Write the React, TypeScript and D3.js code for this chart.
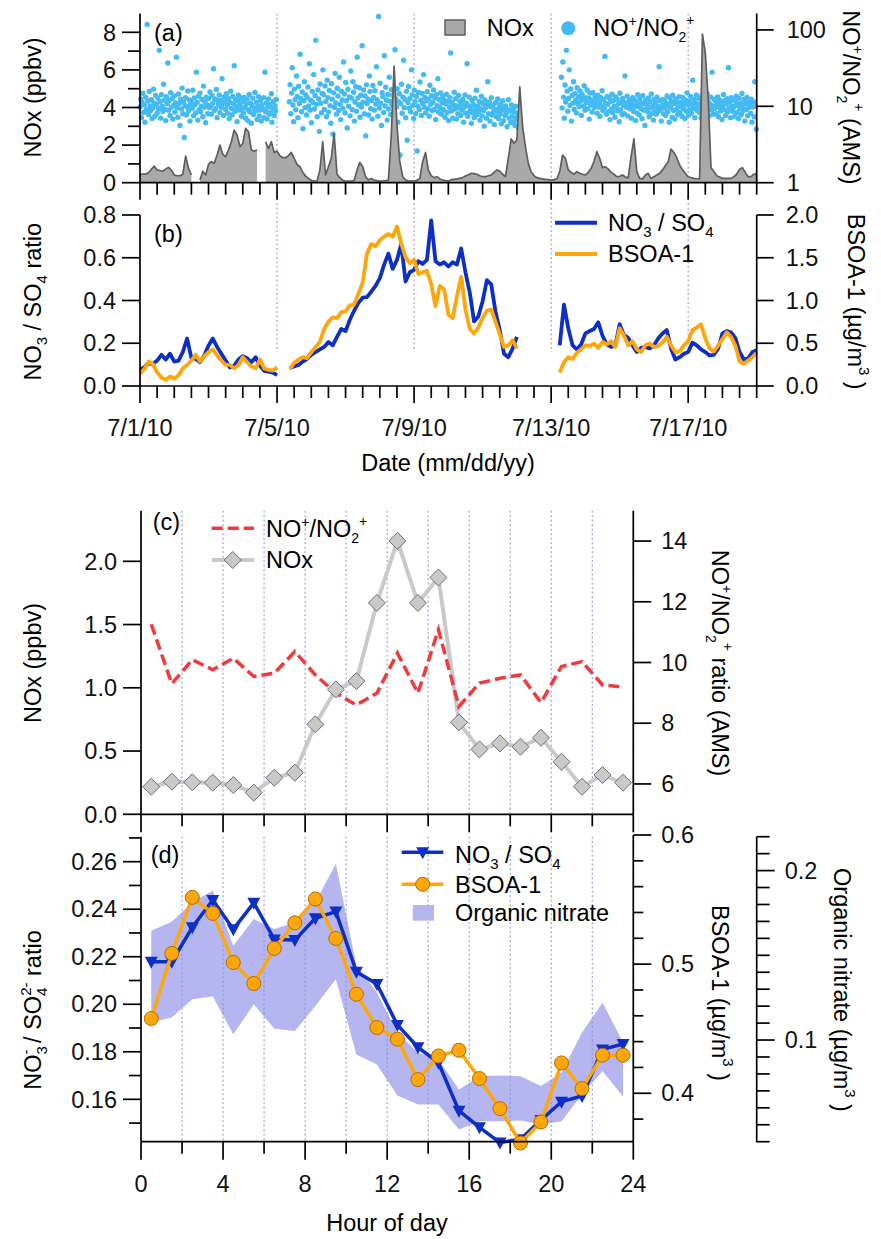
import React from "react";
import * as d3 from "d3";

const FONT = "'Liberation Sans', Arial, Helvetica, sans-serif";
const FS = 23.5;
const T0 = Date.UTC(2010, 6, 1);
const DAY = 86400000;
const toDate = (day: number) => new Date(T0 + day * DAY);

// (a) NOx, ppbv, every 2 h from 7/1 00:00 (null = missing)
const noxStep = 1 / 12;
const noxPpbv = [
  0.46, 0.46, 0.47, 0.53, 0.72, 0.88, 0.67, 0.65, 0.61, 0.72, 0.82, 0.67,
  0.41, 0.37, 0.37, 0.45, 1.42, 0.76, 0.41, null, null, 0.14, 0.61, 0.41,
  0.97, 1.12, 1.03, 1.47, 2.0, 1.51, 1.39, 1.74, 2.18, 2.8, 2.54, 1.92,
  2.09, 2.89, 2.71, 1.74, 1.68, 1.74, null, null, 2.18, 1.83, 2.18, 1.61,
  1.68, 1.44, 1.33, 1.33, 1.44, 1.61, 1.3, 0.97, 0.85, 0.55, 0.35, 0.23,
  0.12, 0.09, 0.09, 0.67, 2.18, 0.41, 0.85, 1.3, 2.62, 0.45, 0.27, 0.12,
  0.09, 0.09, 0.09, 0.12, 0.67, 1.08, 0.85, 0.32, 0.14, 0.23, 0.14, 0.11,
  0.09, 0.09, 0.11, 0.14, 2.5, 6.2, 3.07, 1.12, 0.32, 0.14, 0.11, 0.09,
  0.09, 0.12, 0.23, 1.12, 1.61, 0.67, 0.37, 0.27, 0.32, 0.2, 0.14, 0.11,
  0.09, 0.16, 0.18, 0.2, 0.23, 0.27, 0.36, 0.41, 0.5, 0.48, 0.45, 0.37,
  0.32, 0.32, 0.37, 0.41, 0.55, 0.68, 0.62, 0.45, 0.32, 1.3, 2.33, 2.1,
  2.27, 5.1, 2.99, 1.92, 1.03, 0.59, 0.37, 0.27, 0.23, 0.2, 0.18, 0.16,
  0.14, 0.16, 0.2, 0.59, 1.47, 1.3, 0.68, 0.55, 0.45, 0.59, 0.5, 0.45,
  0.41, 0.55, 0.76, 1.12, 1.65, 1.3, 0.8, 0.85, 0.72, 0.55, 0.45, 0.32,
  0.34, 0.41, 0.3, 0.27, 1.39, 2.33, 0.59, 0.23, 0.2, 0.41, 0.5, 0.23,
  0.32, 0.41, 0.5, 0.68, 0.9, 1.12, 1.79, 1.61, 1.33, 0.94, 0.68, 0.5,
  0.32, 0.27, 0.23, 0.21, 0.2, 7.9, 6.9, 4.5, 0.8, 0.59, 0.37, 0.3,
  0.23, 0.23, 0.23, 0.23, 0.32, 0.45, 0.72, 0.8, 0.55, 0.32, 0.32, 0.45, 0.48,
];

// (a) NO+/NO2+ ratio, every 30 min, three runs of data
const ratioStep = 1 / 48;
const ratioStarts = [0, 4.36, 12.3];
const ratioRunA = [
  9.8, 12.5, 7.1, 11.2, 14.8, 8.3, 10.4, 6.2, 13.1, 9.0, 118, 11.7, 7.8, 15.6, 10.1, 8.8, 12.2, 6.9, 9.5, 16.8, 11.0, 7.4, 13.9, 10.6,
  8.1, 12.8, 9.3, 54, 11.5, 7.0, 14.2, 10.0, 8.6, 19.5, 12.0, 9.1, 6.5, 13.4, 10.8, 37, 8.9, 11.9, 7.6, 15.1, 9.7, 12.6, 6.8, 10.3,
  13.7, 8.4, 11.1, 44, 9.6, 7.2, 14.5, 10.9, 5.6, 12.4, 9.2, 17.3, 8.0, 11.4, 3.9, 10.2, 13.0, 7.7, 9.9, 15.9, 8.7, 12.1, 6.4, 10.7,
  11.8, 9.4, 16.2, 7.5, 12.9, 10.5, 8.2, 28, 11.3, 6.6, 13.6, 9.0, 14.9, 8.5, 10.0, 12.3, 7.3, 18.4, 9.8, 11.6, 6.1, 13.2, 10.4, 8.0,
  12.7, 9.6, 15.4, 10.1, 7.9, 13.8, 11.0, 31, 8.8, 12.5, 9.3, 16.6, 7.1, 11.9, 10.6, 14.1, 8.3, 12.0, 9.7, 23, 10.9, 7.6, 13.3, 11.4,
  9.1, 14.6, 10.3, 8.1, 12.6, 6.9, 11.2, 15.8, 9.4, 7.7, 13.5, 10.8, 34, 8.6, 12.2, 9.9, 6.3, 11.7, 14.0, 8.9, 10.5, 12.9, 7.4, 9.5,
  11.5, 8.2, 13.1, 9.6, 7.0, 10.7, 12.4, 6.5, 9.0, 14.3, 8.4, 11.0, 6.0, 10.2, 12.8, 7.8, 9.3, 15.2, 8.7, 11.3, 6.7, 10.0, 13.4, 7.5,
  8.9, 11.8, 6.4, 10.4, 9.2, 13.0, 7.1, 28, 8.5, 11.1, 6.8, 9.7, 12.5, 7.9, 10.6, 8.3, 14.6, 6.2, 9.4, 11.6, 7.6, 10.1, 8.8, 12.3,
];
const ratioRunB = [
  11.5, 19.2, 8.0, 14.9, 32, 10.4, 6.3, 16.8, 12.2, 9.0, 25, 13.5, 7.1, 18.3, 10.9, 48, 12.7, 8.5, 15.4, 5.1, 11.8, 21, 9.6, 14.1,
  7.7, 13.0, 17.9, 10.1, 36, 8.9, 12.0, 6.1, 15.7, 11.2, 26, 9.2, 13.8, 73, 10.6, 7.3, 16.4, 12.5, 4.7, 19.6, 11.0, 8.2, 14.7, 30,
  14.2, 9.1, 18.5, 11.6, 7.3, 22, 13.0, 8.4, 16.1, 10.2, 6.0, 19.8, 12.4, 4.3, 15.0, 9.7, 27, 11.1, 7.9, 17.2, 13.6, 8.8, 24, 10.6,
  6.7, 15.8, 12.1, 9.4, 38, 14.5, 8.2, 20.5, 11.8, 5.2, 16.7, 10.0, 13.3, 7.5, 29, 12.8, 9.0, 21, 15.3, 6.4, 11.4, 18.0, 8.6, 44,
  12.9, 10.4, 17.5, 7.2, 14.0, 9.8, 62, 11.3, 16.4, 8.0, 13.7, 4.1, 19.1, 10.9, 12.5, 7.7, 25, 15.6, 9.3, 11.9, 6.8, 18.7, 13.1, 8.9,
  16.0, 10.7, 33, 12.2, 7.4, 150, 9.5, 20, 11.0, 5.6, 15.1, 13.4, 8.3, 46, 10.1, 17.8, 12.0, 6.6, 14.3, 9.2, 24, 11.7, 7.8, 16.5,
  10.5, 13.9, 3.1, 8.7, 55, 12.6, 9.9, 17.0, 6.2, 11.5, 14.6, 2.3, 10.8, 19.4, 8.1, 13.2, 40, 9.6, 12.3, 7.1, 15.7, 3.6, 11.2, 18.2,
  9.4, 12.7, 8.5, 30, 14.1, 10.3, 6.9, 16.3, 11.6, 8.0, 13.5, 2.6, 10.0, 15.2, 9.0, 20.8, 12.0, 7.6, 14.7, 11.0, 26, 9.7, 13.0, 8.2,
  11.8, 15.5, 9.3, 12.4, 7.4, 18.9, 10.6, 13.8, 8.8, 11.3, 16.4, 9.1, 12.9, 6.7, 14.2, 10.2, 23, 8.4, 12.2, 9.6, 15.0, 7.9, 11.1, 13.6,
  9.0, 12.0, 7.2, 10.8, 14.4, 8.3, 11.5, 6.5, 9.8, 13.0, 50, 8.7, 11.2, 7.0, 10.4, 15.3, 9.2, 12.6, 6.8, 10.1, 8.0, 13.9, 9.5, 11.7,
  7.6, 10.7, 8.9, 12.3, 6.2, 9.7, 14.1, 8.1, 11.0, 36, 7.4, 10.2, 13.2, 8.6, 9.4, 6.0, 11.9, 8.2, 10.5, 7.1, 12.8, 9.0, 16.2, 7.8,
  10.0, 8.4, 11.6, 6.6, 9.3, 13.5, 7.5, 10.9, 8.8, 5.5, 12.1, 9.6, 7.0, 10.6, 21, 8.0, 11.4, 6.4, 9.9, 13.0, 7.7, 10.3, 8.5, 5.8,
  9.1, 11.2, 7.3, 8.6, 12.5, 6.9, 9.8, 7.9, 10.7, 5.9, 8.9, 11.8, 6.5, 9.4, 7.6, 10.1, 8.2, 5.4, 9.0, 12.2, 7.0, 8.7, 6.1, 10.4,
  7.4, 9.2, 6.3, 8.5, 5.6, 10.0, 7.1, 6.7, 8.1, 5.2,
];
const ratioRunC = [
  24, 9.5, 38, 13.2, 7.0, 19.0, 11.4, 54, 15.8, 8.6, 12.7, 30, 10.3, 16.9, 6.4, 13.9, 11.0, 21, 9.1, 14.6, 12.0, 8.2, 17.5, 10.8,
  13.4, 9.9, 15.9, 11.7, 7.6, 14.3, 12.4, 10.1, 18.6, 8.9, 13.0, 11.2, 16.4, 9.3, 12.8, 6.8, 14.9, 10.5, 12.1, 8.4, 15.2, 11.5, 9.6, 13.7,
  10.9, 12.6, 8.1, 14.0, 9.8, 11.3, 7.4, 13.1, 10.2, 16.0, 8.8, 12.2, 9.4, 45, 11.0, 7.9, 13.5, 10.6, 8.5, 12.9, 6.7, 11.6, 9.2, 14.4,
  8.3, 11.9, 10.0, 7.2, 13.3, 9.5, 12.5, 8.7, 10.8, 6.3, 14.8, 9.0, 11.4, 7.8, 12.7, 10.3, 8.0, 25, 11.1, 9.7, 13.6, 7.5, 10.5, 12.0,
  9.3, 11.7, 7.0, 10.4, 13.0, 8.6, 12.3, 9.9, 6.5, 11.2, 8.2, 14.2, 10.0, 7.7, 12.6, 9.4, 11.0, 6.9, 13.8, 8.9, 10.7, 5.6, 12.0, 9.1,
  10.6, 8.4, 12.9, 7.3, 11.5, 9.6, 14.5, 8.1, 10.2, 6.6, 12.4, 9.0, 11.3, 7.9, 13.2, 10.0, 8.7, 33, 11.8, 9.2, 6.4, 12.2, 10.4, 8.0,
  12.1, 9.5, 7.6, 11.0, 13.7, 8.5, 10.3, 6.2, 12.8, 9.7, 11.4, 7.2, 14.0, 8.8, 10.9, 6.8, 12.5, 9.1, 11.6, 7.8, 10.1, 13.4, 8.3, 9.9,
  11.2, 7.4, 13.1, 9.3, 10.8, 6.9, 12.0, 8.6, 15.0, 10.4, 7.7, 11.7, 9.0, 13.5, 8.1, 10.6, 22, 9.4, 12.3, 7.1, 11.0, 14.1, 8.8, 10.2,
  9.6, 12.7, 8.2, 10.9, 7.0, 13.9, 9.8, 11.5, 6.5, 12.2, 10.0, 8.4, 14.6, 9.2, 11.3, 7.5, 10.7, 13.2, 8.9, 28, 10.1, 7.9, 12.4, 9.4,
  11.8, 8.0, 10.5, 13.3, 7.3, 9.7, 12.0, 8.7, 11.1, 6.7, 10.3, 14.3, 9.0, 11.9, 7.6, 10.8, 12.6, 8.4, 32, 9.5, 11.4, 7.1, 13.0, 10.0,
  8.6, 12.1, 9.9, 7.4, 11.6, 13.6, 8.3, 10.4, 6.9, 12.8, 9.3, 11.0, 7.8, 14.7, 10.2, 8.8, 12.3, 6.4, 10.9, 9.1, 13.1, 7.5, 11.3, 9.7,
  10.6, 8.1, 12.4, 6.2, 9.8, 11.5, 7.3, 21, 10.0, 5.0,
];

// (b) every 3 h, three runs
const bStep = 1 / 8;
const bStarts = [0, 4.375, 12.25];
const no3so4Run1 = [0.079, 0.087, 0.108, 0.103, 0.119, 0.146, 0.124, 0.151, 0.114, 0.119, 0.159, 0.222, 0.13, 0.127, 0.111, 0.143, 0.19, 0.222, 0.183, 0.151, 0.119, 0.087, 0.095, 0.124, 0.14, 0.13, 0.111, 0.135, 0.095, 0.071, 0.067, 0.063, 0.051];
const no3so4Run2 = [0.083, 0.092, 0.098, 0.114, 0.127, 0.146, 0.159, 0.171, 0.183, 0.206, 0.19, 0.23, 0.267, 0.257, 0.31, 0.352, 0.389, 0.413, 0.416, 0.441, 0.468, 0.505, 0.568, 0.619, 0.548, 0.59, 0.663, 0.489, 0.532, 0.543, 0.584, 0.571, 0.59, 0.775, 0.584, 0.568, 0.579, 0.559, 0.579, 0.568, 0.643, 0.532, 0.437, 0.302, 0.325, 0.397, 0.495, 0.476, 0.349, 0.262, 0.151, 0.135, 0.175, 0.23];
const no3so4Run3 = [0.19, 0.381, 0.27, 0.19, 0.171, 0.194, 0.246, 0.257, 0.267, 0.298, 0.235, 0.194, 0.183, 0.19, 0.289, 0.238, 0.225, 0.19, 0.159, 0.178, 0.183, 0.175, 0.19, 0.222, 0.246, 0.262, 0.175, 0.124, 0.135, 0.151, 0.159, 0.203, 0.19, 0.171, 0.159, 0.143, 0.146, 0.175, 0.246, 0.257, 0.251, 0.225, 0.159, 0.124, 0.13, 0.159, 0.167];
const bsoaRun1 = [0.139, 0.198, 0.286, 0.258, 0.159, 0.099, 0.071, 0.111, 0.087, 0.127, 0.206, 0.246, 0.298, 0.365, 0.286, 0.349, 0.397, 0.429, 0.357, 0.298, 0.246, 0.246, 0.206, 0.246, 0.337, 0.278, 0.23, 0.206, 0.31, 0.206, 0.19, 0.179, 0.218];
const bsoaRun2 = [0.198, 0.27, 0.31, 0.337, 0.325, 0.397, 0.456, 0.516, 0.667, 0.754, 0.802, 0.794, 0.865, 0.873, 0.944, 0.952, 1.079, 1.21, 1.548, 1.659, 1.635, 1.706, 1.746, 1.778, 1.746, 1.865, 1.667, 1.508, 1.437, 1.476, 1.31, 1.329, 1.349, 1.19, 0.933, 1.171, 1.131, 0.833, 0.794, 1.052, 1.278, 0.893, 0.667, 0.615, 0.683, 0.794, 0.881, 0.893, 0.754, 0.603, 0.456, 0.476, 0.536, 0.437];
const bsoaRun3 = [0.159, 0.278, 0.337, 0.317, 0.389, 0.429, 0.476, 0.468, 0.496, 0.444, 0.516, 0.484, 0.524, 0.456, 0.675, 0.587, 0.476, 0.524, 0.429, 0.397, 0.476, 0.496, 0.456, 0.468, 0.508, 0.575, 0.476, 0.397, 0.405, 0.476, 0.524, 0.655, 0.683, 0.722, 0.556, 0.437, 0.405, 0.476, 0.548, 0.627, 0.575, 0.476, 0.286, 0.258, 0.298, 0.337, 0.389];

// (c) and (d) diurnal means
const hours = [0.5, 1.5, 2.5, 3.5, 4.5, 5.5, 6.5, 7.5, 8.5, 9.5, 10.5, 11.5, 12.5, 13.5, 14.5, 15.5, 16.5, 17.5, 18.5, 19.5, 20.5, 21.5, 22.5, 23.5];
const noxDiurnal = [0.218, 0.258, 0.253, 0.25, 0.231, 0.171, 0.289, 0.329, 0.711, 0.987, 1.053, 1.671, 2.161, 1.671, 1.872, 0.727, 0.513, 0.561, 0.534, 0.605, 0.415, 0.218, 0.31, 0.25];
const ratioDiurnal = [11.26, 9.3, 10.09, 9.76, 10.14, 9.54, 9.65, 10.36, 9.59, 8.99, 8.6, 8.99, 10.31, 8.99, 11.08, 8.55, 9.32, 9.48, 9.59, 8.68, 9.87, 10.03, 9.26, 9.19];
const no3so4Diurnal = [0.2179, 0.2179, 0.2324, 0.2439, 0.2316, 0.2427, 0.2273, 0.227, 0.2362, 0.239, 0.2137, 0.2085, 0.1913, 0.1819, 0.1754, 0.1552, 0.1482, 0.1418, 0.1432, 0.1513, 0.159, 0.1614, 0.181, 0.1833];
const bsoaDiurnal = [0.4579, 0.5083, 0.5517, 0.5393, 0.5013, 0.485, 0.5122, 0.532, 0.5504, 0.5199, 0.4767, 0.4509, 0.4419, 0.4106, 0.4289, 0.4333, 0.4114, 0.3881, 0.3615, 0.3778, 0.4235, 0.4036, 0.4295, 0.4295];
const orgNitrateHigh = [0.1645, 0.1698, 0.1813, 0.1882, 0.1556, 0.1714, 0.1655, 0.1695, 0.1813, 0.204, 0.1438, 0.128, 0.1044, 0.0925, 0.0886, 0.0708, 0.0787, 0.0791, 0.0787, 0.0728, 0.0807, 0.1044, 0.1221, 0.0985];
const orgNitrateLow = [0.1103, 0.1133, 0.1241, 0.1257, 0.1034, 0.1211, 0.1067, 0.1053, 0.1201, 0.1359, 0.0915, 0.0856, 0.0673, 0.062, 0.062, 0.0472, 0.0521, 0.0521, 0.0525, 0.0501, 0.0521, 0.0679, 0.0817, 0.0665];

const BLUE = "#0d2fc8";
const ORANGE = "#ffa70a";
const SKY = "#43baf2";
const GRID = "#8e8ed8";

type Pt = { t: Date; v: number | null };
const run = (start: number, step: number, vals: (number | null)[]): Pt[] =>
  vals.map((v, i) => ({ t: toDate(start + i * step), v }));

const Sup = ({ s, up = 10, fs = 14 }: { s: string; up?: number; fs?: number }) => (
  <tspan dy={-up} fontSize={fs}>{s}</tspan>
);

export default function App() {
  const xDate = d3.scaleUtc().domain([toDate(0), toDate(18)]).range([140, 756.7]);
  const yNox = d3.scaleLinear().domain([0, 9]).range([182.7, 13.5]);
  const yRatio = d3.scaleLog().domain([1, 164]).range([182.7, 13.5]);
  const yNo3 = d3.scaleLinear().domain([0, 0.8]).range([386, 215]);
  const yBsoa = d3.scaleLinear().domain([0, 2]).range([386, 215]);
  const xHour = d3.scaleLinear().domain([0, 24]).range([141, 633.3]);
  const yNoxC = d3.scaleLinear().domain([0, 2.4]).range([814.3, 510.7]);
  const yRatioC = d3.scaleLinear().domain([5, 15]).range([814.3, 510.7]);
  const yNo3D = d3.scaleLinear().domain([0.14216, 0.27052]).range([1141.7, 836.7]);
  const yBsoaD = d3.scaleLinear().domain([0.3625, 0.6]).range([1141.7, 835]);
  const yOrgD = d3.scaleLinear().domain([0.04, 0.22]).range([1141.7, 836.7]);

  const noxPts = run(0, noxStep, noxPpbv);
  const ratioPts = [
    ...run(ratioStarts[0], ratioStep, ratioRunA),
    ...run(ratioStarts[1], ratioStep, ratioRunB),
    ...run(ratioStarts[2], ratioStep, ratioRunC),
  ];
  const no3Runs = [no3so4Run1, no3so4Run2, no3so4Run3].map((r, i) => run(bStarts[i], bStep, r));
  const bsoaRuns = [bsoaRun1, bsoaRun2, bsoaRun3].map((r, i) => run(bStarts[i], bStep, r));

  const noxArea = d3
    .area<Pt>()
    .defined((d) => d.v != null)
    .x((d) => xDate(d.t))
    .y0(yNox(0))
    .y1((d) => yNox(d.v as number));
  const noxLine = d3
    .line<Pt>()
    .defined((d) => d.v != null)
    .x((d) => xDate(d.t))
    .y((d) => yNox(d.v as number));
  const no3Line = d3.line<Pt>().x((d) => xDate(d.t)).y((d) => yNo3(d.v as number));
  const bsoaLine = d3.line<Pt>().x((d) => xDate(d.t)).y((d) => yBsoa(d.v as number));

  const hourLine = (ys: number[], sc: d3.ScaleLinear<number, number>) =>
    d3.line<number>().x((_, i) => xHour(hours[i])).y((v) => sc(v))(ys) as string;
  const orgBand = d3
    .area<number>()
    .x((_, i) => xHour(hours[i]))
    .y0((_, i) => yOrgD(orgNitrateLow[i]))
    .y1((v) => yOrgD(v))(orgNitrateHigh) as string;

  const dateTicks = xDate.ticks(d3.utcHour.every(12) as any);
  const dayOf = (t: Date) => Math.round(((+t - T0) / DAY) * 2) / 2;
  const isMajorDate = (t: Date) => dayOf(t) % 4 === 0;
  const fmtDate = d3.utcFormat("%-m/%-d/%y");
  const gridDates = dateTicks.filter((t) => isMajorDate(t) && dayOf(t) > 0 && dayOf(t) < 18);
  const hourTicks = d3.range(0, 25, 2);

  const axis = { stroke: "#000", strokeWidth: 1.7, fill: "none" };
  const tickLabel = { fontSize: FS, fontFamily: FONT, fill: "#111" };

  const leftTicks = (ticks: number[], sc: (v: number) => number, x: number, fmt: (v: number) => string | null, key: string, len = 18, minorLen = 12) =>
    ticks.map((v, i) => {
      const lab = fmt(v);
      return (
        <g key={key + i}>
          <line x1={x - (lab != null ? len : minorLen)} x2={x} y1={sc(v)} y2={sc(v)} {...axis} />
          {lab != null && (
            <text x={x - 24} y={sc(v)} dy="0.35em" textAnchor="end" {...tickLabel}>{lab}</text>
          )}
        </g>
      );
    });
  const rightTicks = (ticks: number[], sc: (v: number) => number, x: number, fmt: (v: number) => string | null, key: string, len = 17, minorLen = 10, gap = 28) =>
    ticks.map((v, i) => {
      const lab = fmt(v);
      return (
        <g key={key + i}>
          <line x1={x} x2={x + (lab != null ? len : minorLen)} y1={sc(v)} y2={sc(v)} {...axis} />
          {lab != null && (
            <text x={x + gap} y={sc(v)} dy="0.35em" textAnchor="start" {...tickLabel}>{lab}</text>
          )}
        </g>
      );
    });

  const dateAxis = (y: number, labels: boolean, key: string) =>
    dateTicks.map((t, i) => (
      <g key={key + i}>
        <line x1={xDate(t)} x2={xDate(t)} y1={y} y2={y + (isMajorDate(t) ? 17 : 12)} {...axis} />
        {labels && isMajorDate(t) && dayOf(t) < 18 && (
          <text x={xDate(t)} y={y + 50} textAnchor="middle" {...tickLabel}>{fmtDate(t)}</text>
        )}
      </g>
    ));
  const hourAxis = (y: number, labels: boolean, key: string) =>
    hourTicks.map((h, i) => (
      <g key={key + i}>
        <line x1={xHour(h)} x2={xHour(h)} y1={y} y2={y + (h % 4 === 0 ? 18 : 12)} {...axis} />
        {labels && h % 4 === 0 && (
          <text x={xHour(h)} y={y + 50} textAnchor="middle" {...tickLabel}>{h}</text>
        )}
      </g>
    ));

  const f1 = d3.format(".1f");
  const f2 = d3.format(".2f");
  const tri = "M-6.5,-5 L6.5,-5 L0,7 Z";
  const diamond = "M0,-8.5 L8.5,0 L0,8.5 L-8.5,0 Z";

  return (
    <svg width={881} height={1239} style={{ position: "absolute", left: 0, top: 0, background: "#fff" }} fontFamily={FONT}>
      <rect width={881} height={1239} fill="#fff" />

      {/* ---------- (a) ---------- */}
      {gridDates.map((t, i) => (
        <line key={"ga" + i} x1={xDate(t)} x2={xDate(t)} y1={13.5} y2={182.7} stroke={GRID} strokeWidth={1} strokeDasharray="2,2.5" />
      ))}
      {ratioPts.map((d, i) => (
        <circle key={"r" + i} cx={xDate(d.t)} cy={yRatio(d.v as number)} r={2.7} fill={SKY} />
      ))}
      <path d={noxArea(noxPts) as string} fill="#a9a9a9" />
      <path d={noxLine(noxPts) as string} fill="none" stroke="#5e5e5e" strokeWidth={1.7} strokeLinejoin="round" />
      <line x1={140} x2={756.7} y1={182.7} y2={182.7} {...axis} />
      <line x1={140} x2={140} y1={182.7} y2={13.5} {...axis} />
      <line x1={756.7} x2={756.7} y1={182.7} y2={13.5} {...axis} />
      {leftTicks(d3.range(0, 9, 1), yNox, 140, (v) => (v % 2 === 0 ? String(v) : null), "al")}
      {rightTicks([1, 10, 100], yRatio, 756.7, (v) => String(v), "ar", 17, 10, 30)}
      {dateAxis(182.7, false, "ax")}
      <text x={154} y={41} fontSize={FS}>(a)</text>
      <rect x={445} y={20} width={20} height={15} fill="#a9a9a9" stroke="#5e5e5e" strokeWidth={1.5} />
      <text x={486.7} y={35.5} fontSize={FS}>NOx</text>
      <circle cx={568.3} cy={28.3} r={7} fill={SKY} />
      <text x={593.3} y={35.5} fontSize={FS}>
        NO<Sup s="+" /><tspan dy={10}>/NO</tspan><tspan dy={6} fontSize={14}>2</tspan><Sup s="+" up={17} />
      </text>
      <text transform="translate(41,97.5) rotate(-90)" textAnchor="middle" fontSize={FS}>NOx (ppbv)</text>
      <text transform="translate(843,97.5) rotate(90)" textAnchor="middle" fontSize={FS}>
        NO<Sup s="+" /><tspan dy={10}>/NO</tspan><tspan dy={6} fontSize={14}>2</tspan><Sup s="+" up={17} />
        <tspan dy={11}> (AMS)</tspan>
      </text>

      {/* ---------- (b) ---------- */}
      {gridDates.map((t, i) => (
        <line key={"gb" + i} x1={xDate(t)} x2={xDate(t)} y1={203} y2={352} stroke={GRID} strokeWidth={1} strokeDasharray="2,2.5" />
      ))}
      {no3Runs.map((r, i) => (
        <path key={"nb" + i} d={no3Line(r) as string} fill="none" stroke={BLUE} strokeWidth={3.8} strokeLinejoin="round" />
      ))}
      {bsoaRuns.map((r, i) => (
        <path key={"bb" + i} d={bsoaLine(r) as string} fill="none" stroke={ORANGE} strokeWidth={3.8} strokeLinejoin="round" />
      ))}
      <line x1={140} x2={756.7} y1={386} y2={386} {...axis} />
      <line x1={140} x2={140} y1={386} y2={215} {...axis} />
      <line x1={756.7} x2={756.7} y1={386} y2={215} {...axis} />
      {leftTicks(yNo3.ticks(4), yNo3, 140, (v) => f1(v), "bl")}
      {rightTicks(yBsoa.ticks(4), yBsoa, 756.7, (v) => f1(v), "br", 17, 10, 29)}
      {dateAxis(386, true, "bx")}
      <text x={154} y={242} fontSize={FS}>(b)</text>
      <line x1={555} x2={597} y1={222.7} y2={222.7} stroke={BLUE} strokeWidth={4} />
      <text x={608} y={230.5} fontSize={FS}>
        NO<tspan dy={6} fontSize={15}>3</tspan><tspan dy={-6}> / SO</tspan><tspan dy={6} fontSize={15}>4</tspan>
      </text>
      <line x1={555} x2={597} y1={254} y2={254} stroke={ORANGE} strokeWidth={4} />
      <text x={608} y={262} fontSize={FS}>BSOA-1</text>
      <text transform="translate(41,301.7) rotate(-90)" textAnchor="middle" fontSize={FS}>
        NO<tspan dy={6} fontSize={15}>3</tspan><tspan dy={-6}> / SO</tspan><tspan dy={6} fontSize={15}>4</tspan><tspan dy={-6}> ratio</tspan>
      </text>
      <text transform="translate(848,301.7) rotate(90)" textAnchor="middle" fontSize={FS}>
        BSOA-1 (µg/m<Sup s="3" up={11} fs={15} /><tspan dy={11}> )</tspan>
      </text>
      <text x={448} y={471} textAnchor="middle" fontSize={FS}>Date (mm/dd/yy)</text>

      {/* ---------- (c) ---------- */}
      {hourTicks.filter((h) => h > 0).map((h, i) => (
        <line key={"gc" + i} x1={xHour(h)} x2={xHour(h)} y1={510.7} y2={814.3} stroke={GRID} strokeWidth={1} strokeDasharray="2,2.5" />
      ))}
      <path d={hourLine(noxDiurnal, yNoxC)} fill="none" stroke="#c9c9c9" strokeWidth={4} strokeLinejoin="round" />
      <path d={hourLine(ratioDiurnal, yRatioC)} fill="none" stroke="#f03a3e" strokeWidth={3.5} strokeDasharray="11,5" />
      {noxDiurnal.map((v, i) => (
        <path key={"dm" + i} d={diamond} transform={`translate(${xHour(hours[i])},${yNoxC(v)})`} fill="#c9c9c9" stroke="#6f6f6f" strokeWidth={1} />
      ))}
      <line x1={141} x2={633.3} y1={814.3} y2={814.3} {...axis} />
      <line x1={141} x2={141} y1={814.3} y2={510.7} {...axis} />
      <line x1={633.3} x2={633.3} y1={814.3} y2={510.7} {...axis} />
      {leftTicks(yNoxC.ticks(5), yNoxC, 141, (v) => f1(v), "cl")}
      {rightTicks(yRatioC.ticks(5), yRatioC, 633.3, (v) => String(v), "cr", 18, 10, 28)}
      {hourAxis(814.3, false, "cx")}
      <text x={152.7} y={530} fontSize={FS}>(c)</text>
      <line x1={211.7} x2={254} y1={528.3} y2={528.3} stroke="#f03a3e" strokeWidth={3.5} strokeDasharray="11,5" />
      <text x={266} y={537} fontSize={FS}>
        NO<Sup s="+" /><tspan dy={10}>/NO</tspan><tspan dy={6} fontSize={14}>2</tspan><Sup s="+" up={17} />
      </text>
      <line x1={211.7} x2={254} y1={560} y2={560} stroke="#c9c9c9" strokeWidth={4} />
      <path d={diamond} transform="translate(232.7,560)" fill="#c9c9c9" stroke="#6f6f6f" strokeWidth={1} />
      <text x={266} y={568} fontSize={FS}>NOx</text>
      <text transform="translate(41,663) rotate(-90)" textAnchor="middle" fontSize={FS}>NOx (ppbv)</text>
      <text transform="translate(712,663) rotate(90)" textAnchor="middle" fontSize={FS}>
        NO<Sup s="+" /><tspan dy={10}>/NO</tspan><tspan dy={6} fontSize={14}>2</tspan><Sup s="+" up={17} />
        <tspan dy={11}> ratio (AMS)</tspan>
      </text>

      {/* ---------- (d) ---------- */}
      <path d={orgBand} fill="#b5b5ef" />
      {hourTicks.filter((h) => h > 0).map((h, i) => (
        <line key={"gd" + i} x1={xHour(h)} x2={xHour(h)} y1={836.7} y2={1141.7} stroke={GRID} strokeWidth={1} strokeDasharray="2,2.5" />
      ))}
      <path d={hourLine(no3so4Diurnal, yNo3D)} fill="none" stroke={BLUE} strokeWidth={3.5} strokeLinejoin="round" />
      {no3so4Diurnal.map((v, i) => (
        <path key={"tr" + i} d={tri} transform={`translate(${xHour(hours[i])},${yNo3D(v)})`} fill={BLUE} />
      ))}
      <path d={hourLine(bsoaDiurnal, yBsoaD)} fill="none" stroke={ORANGE} strokeWidth={3.5} strokeLinejoin="round" />
      {bsoaDiurnal.map((v, i) => (
        <circle key={"ci" + i} cx={xHour(hours[i])} cy={yBsoaD(v)} r={7} fill={ORANGE} stroke="#b06d00" strokeWidth={1} />
      ))}
      <line x1={141} x2={633.3} y1={1141.7} y2={1141.7} {...axis} />
      <line x1={141} x2={141} y1={1141.7} y2={836.7} {...axis} />
      <line x1={633.3} x2={633.3} y1={1141.7} y2={835} {...axis} />
      <line x1={756.7} x2={756.7} y1={1142.3} y2={836.7} {...axis} />
      {leftTicks(yNo3D.ticks(12), yNo3D, 141, (v) => (Math.round(v * 100) % 2 === 0 ? f2(v) : null), "dl")}
      {rightTicks(yBsoaD.ticks(12), yBsoaD, 633.3, (v) => (Math.round(v * 100) % 10 === 0 ? f1(v) : null), "dr", 18, 10, 28)}
      {rightTicks(yOrgD.ticks(18), yOrgD, 756.7, (v) => (Math.round(v * 100) % 10 === 0 ? f1(v) : null), "do", 18, 13, 28)}
      {hourAxis(1141.7, true, "dx")}
      <text x={150.7} y={863} fontSize={FS}>(d)</text>
      <line x1={401.7} x2={443.3} y1={852.3} y2={852.3} stroke={BLUE} strokeWidth={3.5} />
      <path d={tri} transform="translate(422.7,852.3)" fill={BLUE} />
      <text x={455} y={863} fontSize={FS}>
        NO<tspan dy={6} fontSize={15}>3</tspan><tspan dy={-6}> / SO</tspan><tspan dy={6} fontSize={15}>4</tspan>
      </text>
      <line x1={401.7} x2={443.3} y1={884.3} y2={884.3} stroke={ORANGE} strokeWidth={3.5} />
      <circle cx={422.7} cy={884.3} r={7} fill={ORANGE} stroke="#b06d00" strokeWidth={1} />
      <text x={455} y={893} fontSize={FS}>BSOA-1</text>
      <rect x={412.7} y={905} width={21.3} height={15.7} fill="#b5b5ef" />
      <text x={455} y={921} fontSize={FS}>Organic nitrate</text>
      <text transform="translate(41,1010) rotate(-90)" textAnchor="middle" fontSize={FS}>
        NO<tspan dy={6} fontSize={15}>3</tspan><tspan dx={-8.3} dy={-16} fontSize={15}>-</tspan>
        <tspan dy={10}> / SO</tspan><tspan dy={6} fontSize={15}>4</tspan><tspan dx={-8.3} dy={-16} fontSize={15}>2-</tspan>
        <tspan dy={10}> ratio</tspan>
      </text>
      <text transform="translate(712,993) rotate(90)" textAnchor="middle" fontSize={FS}>
        BSOA-1 (µg/m<Sup s="3" up={11} fs={15} /><tspan dy={11}> )</tspan>
      </text>
      <text transform="translate(834,990) rotate(90)" textAnchor="middle" fontSize={FS}>
        Organic nitrate (µg/m<Sup s="3" up={11} fs={15} /><tspan dy={11}> )</tspan>
      </text>
      <text x={387} y={1231} textAnchor="middle" fontSize={FS}>Hour of day</text>
    </svg>
  );
}
